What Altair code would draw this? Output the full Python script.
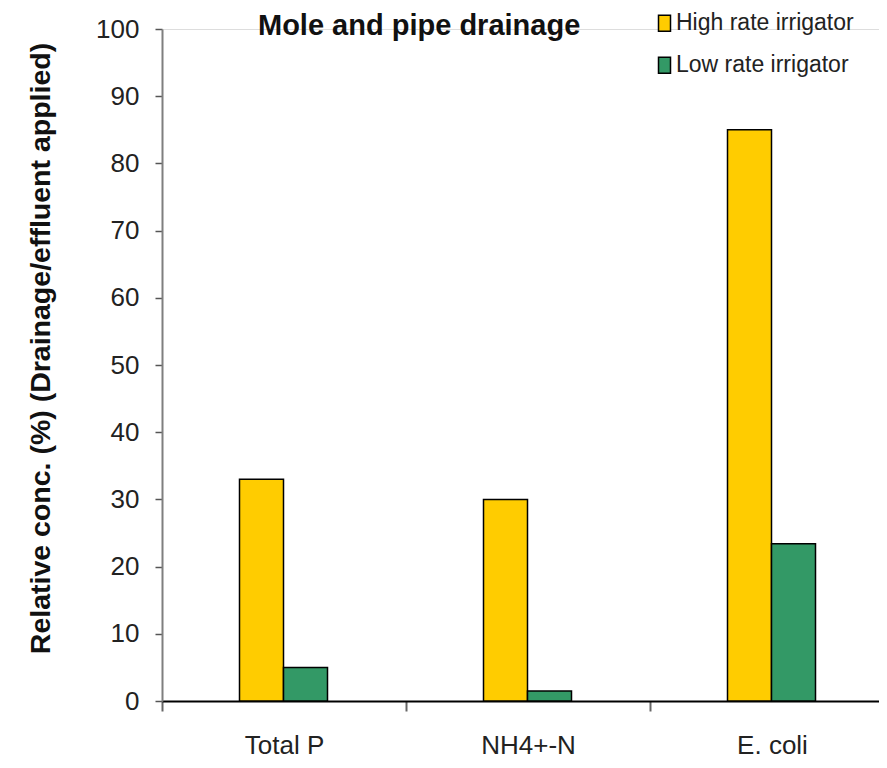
import altair as alt
import pandas as pd

categories = ["Total P", "NH4+-N", "E. coli"]
series_names = ["High rate irrigator", "Low rate irrigator"]
high_rate = [33, 30, 85]
low_rate = [5, 1.5, 23.4]
y_ticks = [0, 10, 20, 30, 40, 50, 60, 70, 80, 90, 100]
colors = ["#FFCC00", "#339966"]

rows = []
for c, h, l in zip(categories, high_rate, low_rate):
    rows.append({"cat": c, "series": series_names[0], "value": h})
    rows.append({"cat": c, "series": series_names[1], "value": l})
df = pd.DataFrame(rows)

W = 717
H = 672
SANS = "Liberation Sans, Arial, sans-serif"

chart = alt.Chart(df).mark_bar(stroke="black", strokeWidth=1.5).encode(
    x=alt.X(
        "cat:N",
        sort=categories,
        scale=alt.Scale(range=[0, 732], paddingInner=0, paddingOuter=0),
        axis=alt.Axis(
            title=None, labelAngle=0, tickBand="extent", grid=False,
            domainColor="black", domainWidth=2,
            tickColor="#666666", tickWidth=2, tickSize=10,
            labelFont=SANS, labelFontSize=26, labelColor="#222222",
            labelBaseline="alphabetic", labelPadding=42,
        ),
    ),
    xOffset=alt.XOffset(
        "series:N", sort=series_names,
        scale=alt.Scale(domain=series_names, range=[77.5, 165.5], paddingInner=0, paddingOuter=0),
    ),
    y=alt.Y(
        "value:Q",
        scale=alt.Scale(domain=[0, 100], nice=False),
        axis=alt.Axis(
            values=y_ticks, grid=False,
            title="Relative conc. (%) (Drainage/effluent applied)",
            domainColor="#7f7f7f", domainWidth=2,
            tickColor="#555555", tickWidth=1.5, tickSize=7,
            labelFont=SANS, labelFontSize=26, labelColor="#222222",
            labelPadding=16,
            titleFont=SANS, titleFontSize=28.5, titleFontWeight="bold",
            titleColor="#111111", titleAngle=270, titleBaseline="alphabetic",
            titleAlign="center", titleX=-113, titleY=319,
        ),
    ),
    color=alt.Color(
        "series:N", sort=series_names,
        scale=alt.Scale(domain=series_names, range=colors),
        legend=alt.Legend(
            title=None, orient="none", legendX=491, legendY=-17.3,
            symbolType="M-0.75,-1L0.75,-1L0.75,1L-0.75,1Z", symbolSize=256,
            symbolStrokeColor="black", symbolStrokeWidth=1.5, symbolOpacity=1,
            labelFont=SANS, labelFontSize=23, labelColor="#222222",
            labelOffset=0, labelLimit=400, rowPadding=18, padding=0,
        ),
    ),
).properties(
    width=W,
    height=H,
    title=alt.TitleParams(
        "Mole and pipe drainage", font=SANS, fontSize=29, fontWeight="bold",
        color="#111111", anchor="start", dx=96, offset=-52, baseline="alphabetic",
        frame="group",
    ),
    autosize=alt.AutoSizeParams(type="none"),
    padding={"left": 154, "top": 21, "right": 0, "bottom": 59},
).configure_view(stroke=None).configure(background="white")

chart.save("out.html", embed_options={"renderer": "svg", "actions": False})
